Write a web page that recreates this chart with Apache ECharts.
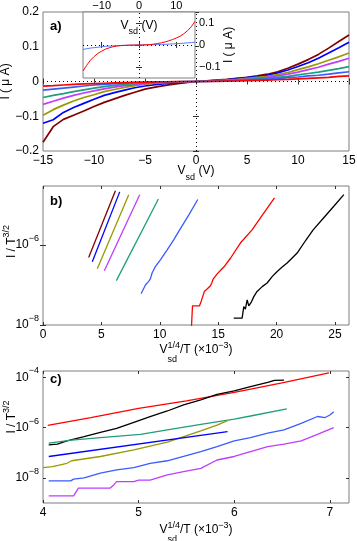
<!DOCTYPE html>
<html>
<head>
<meta charset="utf-8">
<script src="https://cdn.jsdelivr.net/npm/echarts@6/dist/echarts.min.js"></script>
<style>
html, body { margin: 0; padding: 0; background: #fff; }
#chart { width: 357px; height: 541px; }
</style>
</head>
<body>
<div id="chart"></div>
<script>
// ---------- a) I-V curves, current in uA
const vsd = [-15,-14,-13,-12,-11,-10,-9,-8,-7,-6,-5,-4,-3,-2,-1,0,1,2,3,4,5,6,7,8,9,10,11,12,13,14,15];
const aMaroon = [-0.175,-0.130,-0.109,-0.097,-0.085,-0.072,-0.060,-0.050,-0.040,-0.031,-0.022,-0.016,-0.011,-0.007,-0.003,0,0.002,0.004,0.006,0.009,0.012,0.016,0.021,0.028,0.038,0.050,0.063,0.078,0.096,0.115,0.134];
const aBlue   = [-0.120,-0.110,-0.089,-0.075,-0.063,-0.051,-0.040,-0.032,-0.025,-0.018,-0.013,-0.009,-0.006,-0.004,-0.002,0,0.0015,0.003,0.005,0.008,0.011,0.014,0.018,0.025,0.033,0.043,0.054,0.067,0.082,0.097,0.113];
const aOlive  = [-0.097,-0.081,-0.068,-0.056,-0.046,-0.038,-0.029,-0.023,-0.017,-0.012,-0.008,-0.005,-0.003,-0.002,-0.001,0,0.001,0.0025,0.004,0.006,0.009,0.012,0.015,0.020,0.026,0.034,0.042,0.051,0.061,0.071,0.082];
const aViolet = [-0.066,-0.057,-0.048,-0.040,-0.033,-0.027,-0.021,-0.016,-0.012,-0.009,-0.006,-0.004,-0.0025,-0.0015,-0.0007,0,0.0007,0.002,0.003,0.005,0.0075,0.0095,0.012,0.016,0.021,0.027,0.034,0.041,0.050,0.058,0.067];
const aTeal   = [-0.046,-0.040,-0.035,-0.029,-0.024,-0.019,-0.015,-0.011,-0.008,-0.006,-0.004,-0.003,-0.002,-0.001,-0.0005,0,0.0005,0.0015,0.0025,0.004,0.006,0.0075,0.0095,0.012,0.015,0.019,0.023,0.027,0.032,0.037,0.043];
const aSky    = [-0.025,-0.022,-0.019,-0.016,-0.013,-0.010,-0.008,-0.006,-0.0045,-0.0035,-0.0025,-0.0018,-0.0012,-0.0007,-0.0003,0,0.0003,0.001,0.0018,0.003,0.004,0.0055,0.007,0.0085,0.011,0.013,0.016,0.018,0.021,0.025,0.028];
const aRed    = [-0.0135,-0.012,-0.010,-0.0085,-0.007,-0.006,-0.005,-0.004,-0.003,-0.0022,-0.0016,-0.0011,-0.0007,-0.0004,-0.0002,0,0.0002,0.0005,0.001,0.0015,0.0025,0.003,0.004,0.005,0.006,0.0075,0.009,0.0105,0.012,0.0145,0.016];
// inset
const inRed  = [-0.118,-0.092,-0.069,-0.052,-0.038,-0.028,-0.019,-0.013,-0.008,-0.005,-0.003,-0.002,-0.001,-0.0005,-0.0002,0,0.0003,0.001,0.002,0.004,0.007,0.010,0.014,0.019,0.025,0.032,0.040,0.051,0.065,0.083,0.107];
const inBlue = [-0.020,-0.017,-0.014,-0.012,-0.010,-0.008,-0.006,-0.005,-0.004,-0.003,-0.002,-0.0015,-0.001,-0.0005,-0.0002,0,0.0002,0.0005,0.001,0.0015,0.002,0.0025,0.003,0.004,0.005,0.006,0.007,0.008,0.010,0.011,0.013];
const aTicksX = [-15,-10,-5,0,5,10,15];
const aTicksY = [-0.2,-0.1,0,0.1,0.2];
const inTicksX = [-10,0,10];
const inTicksY = [-0.1,0,0.1];

// ---------- b) I/T^1.5 vs Vsd^(1/4)/T (x1e-3); y stored as log10
const bMaroonX = [3.91, 6.2],  bMaroonE = [-6.31, -4.64];
const bBlueX   = [4.22, 6.57], bBlueE   = [-6.42, -4.67];
const bOliveX  = [4.65, 7.34], bOliveE  = [-6.59, -4.74];
const bVioletX = [5.25, 8.28], bVioletE = [-6.645, -4.74];
const bTealX   = [6.28, 9.88], bTealE   = [-6.89, -4.85];
const bSkyX = [8.4, 8.6, 8.77, 9.05, 9.2, 9.34, 9.62, 10.05, 10.63, 11.19, 11.7, 12.5, 13.25];
const bSkyE = [-7.22, -7.1, -7.0, -6.91, -6.84, -6.70, -6.54, -6.37, -6.12, -5.87, -5.62, -5.24, -4.86];
const bRedX = [12.62, 12.72, 12.8, 13.4, 13.54, 13.65, 13.82, 14.05, 14.34, 14.45, 14.57, 14.91, 15.48, 16.05, 16.9, 17.9, 18.9, 19.82];
const bRedE = [-8.3, -8.0, -7.52, -7.52, -7.41, -7.38, -7.16, -7.1, -7.02, -6.95, -6.85, -6.72, -6.55, -6.33, -5.95, -5.62, -5.2, -4.82];
const bBlackX = [16.33, 17.05, 17.19, 17.33, 17.48, 17.62, 17.85, 18.05, 18.33, 18.77, 19.19, 19.62, 20.05, 20.48, 20.9, 21.76, 22.5, 23.13, 24.0, 24.9, 25.76];
const bBlackE = [-7.83, -7.83, -7.54, -7.6, -7.37, -7.52, -7.42, -7.29, -7.16, -7.04, -6.95, -6.79, -6.66, -6.55, -6.45, -6.2, -5.88, -5.62, -5.33, -5.03, -4.74];
const bTicksX = [0, 5, 10, 15, 20, 25];
const bTicksY = [1e-8, 1e-6];

// ---------- c) zoom of the same quantity
const cRedX = [4.05, 4.5, 5.0, 5.5, 6.0, 6.5, 6.99];
const cRedE = [-5.91, -5.6, -5.24, -4.94, -4.6, -4.22, -3.82];
const cBlackX = [4.06, 4.15, 4.25, 4.43, 4.6, 4.77, 4.95, 5.12, 5.3, 5.47, 5.65, 5.82, 6.0, 6.17, 6.35, 6.42, 6.52];
const cBlackE = [-6.69, -6.66, -6.53, -6.36, -6.19, -6.03, -5.79, -5.56, -5.34, -5.1, -4.9, -4.68, -4.54, -4.37, -4.2, -4.12, -4.11];
const cTealX = [4.06, 4.3, 4.6, 5.02, 5.3, 5.65, 6.0, 6.17, 6.55];
const cTealE = [-6.62, -6.5, -6.4, -6.27, -6.09, -5.87, -5.66, -5.54, -5.26];
const cOliveX = [4.0, 4.1, 4.25, 4.3, 4.6, 4.95, 5.3, 5.65, 5.82, 5.93];
const cOliveE = [-7.59, -7.55, -7.42, -7.32, -7.15, -6.89, -6.58, -6.13, -5.9, -5.72];
const cBlueX = [4.06, 5.93];
const cBlueE = [-7.15, -6.16];
const cSkyX = [4.06, 4.29, 4.32, 4.43, 4.6, 4.77, 4.95, 5.12, 5.3, 5.47, 5.65, 5.82, 6.0, 6.17, 6.35, 6.52, 6.7, 6.87, 6.95, 7.0, 7.04];
const cSkyE = [-8.12, -8.12, -8.05, -8.0, -7.81, -7.68, -7.59, -7.42, -7.32, -7.15, -6.96, -6.76, -6.53, -6.4, -6.22, -6.09, -5.83, -5.56, -5.6, -5.5, -5.37];
const cVioletX = [4.06, 4.32, 4.37, 4.7, 4.74, 4.77, 4.95, 5.0, 5.12, 5.3, 5.47, 5.65, 5.82, 6.0, 6.17, 6.35, 6.52, 6.7, 6.87, 7.04];
const cVioletE = [-8.72, -8.72, -8.41, -8.41, -8.28, -8.15, -8.15, -8.09, -8.09, -7.88, -7.75, -7.62, -7.29, -7.15, -6.96, -6.76, -6.66, -6.53, -6.27, -6.0];
const cTicksX = [4, 5, 6, 7];
const cTicksY = [1e-8, 1e-6, 1e-4];

// ---------- styling
const FONT = '"Liberation Sans", Arial, Helvetica, sans-serif';
const FRAME = '#7f7f7f';
const TICKC = '#333';
const C = { maroon: '#800000', blue: '#0000ff', olive: '#999900', violet: '#c03cff', teal: '#1f9e7c', sky: '#3a5cff', red: '#ff0000', black: '#000000' };

function pairs(xs, ys) { return xs.map((x, i) => [x, ys[i]]); }
function logPairs(xs, es) { return xs.map((x, i) => [x, Math.pow(10, es[i])]); }
function minus(v) { return String(v).replace('-', '\u2212'); }
function pow10Label(v) { return '10{s|' + minus(Math.round(Math.log10(v))) + '}'; }

const supRich = { s: { fontSize: 9, fontFamily: FONT, color: '#000', verticalAlign: 'top', lineHeight: 10 } };

function axis(o) {
  const a = {
    gridIndex: o.grid, type: o.type || 'value', position: o.pos, min: o.min, max: o.max, z: o.z || 0,
    axisLine: { show: false },
    axisTick: { show: true, inside: true, length: 3, customValues: o.ticks, lineStyle: { color: TICKC, width: 1 } },
    axisLabel: { show: !!o.labels, customValues: o.ticks, color: '#000', fontSize: o.fs || 12, fontFamily: FONT, margin: o.margin != null ? o.margin : 4, hideOverlap: false },
    splitLine: { show: false }
  };
  if (o.fmt) a.axisLabel.formatter = o.fmt;
  if (a.type === 'log') {
    a.logBase = 10;
    a.axisLabel.lineHeight = 22;
    a.axisLabel.rich = supRich;
  }
  if (o.name) {
    a.name = o.name; a.nameLocation = 'middle'; a.nameGap = o.gap; a.nameTextStyle = o.nameStyle;
    a.nameMoveOverlap = false;
  }
  return a;
}

// subscript / superscript tokens for the axis titles
function xNameStyle(subDrop) {
  const small = { fontSize: 9, fontFamily: FONT, color: '#000' };
  return {
    fontSize: 12, fontFamily: FONT, color: '#000', lineHeight: 30,
    rich: {
      sb:  Object.assign({ verticalAlign: 'bottom', padding: [0, 0, subDrop, 0] }, small),
      sbs: Object.assign({ verticalAlign: 'bottom', padding: [0, -9.5, subDrop, 0] }, small),
      sp:  Object.assign({ verticalAlign: 'top', padding: [6, 0, 0, 0] }, small)
    }
  };
}
function yNameStyle(shift) {
  return {
    fontSize: 12, fontFamily: FONT, color: '#000', lineHeight: 20, padding: [0, 0, 0, shift],
    rich: { sp: { fontSize: 9, fontFamily: FONT, color: '#000', verticalAlign: 'top', lineHeight: 10 } }
  };
}

const gridBase = { show: true, borderColor: FRAME, borderWidth: 1, containLabel: false, outerBoundsMode: 'none' };
const grids = [
  Object.assign({ left: 43, top: 12, width: 306, height: 139 }, gridBase),
  Object.assign({ left: 83, top: 12, width: 112, height: 66, backgroundColor: '#fff', z: 5 }, gridBase),
  Object.assign({ left: 43, top: 186, width: 306, height: 139 }, gridBase),
  Object.assign({ left: 43, top: 371, width: 306, height: 132 }, gridBase)
];

const xAxes = [
  axis({ grid: 0, pos: 'bottom', min: -15, max: 15, ticks: aTicksX, labels: true, fmt: minus, name: 'V{sb|sd} (V)', gap: 5, nameStyle: xNameStyle(3.5) }),
  axis({ grid: 0, pos: 'top', min: -15, max: 15, ticks: aTicksX }),
  axis({ grid: 1, pos: 'top', min: -15, max: 15, ticks: inTicksX, labels: true, fmt: minus, fs: 11, margin: 1, z: 6,
         name: 'V{sb|sd} (V)', gap: -29, nameStyle: xNameStyle(4.5) }),
  axis({ grid: 1, pos: 'bottom', min: -15, max: 15, ticks: inTicksX, z: 6 }),
  axis({ grid: 2, pos: 'bottom', min: 0, max: 26.2, ticks: bTicksX, labels: true,
         name: 'V{sbs|sd}{sp|1/4}/T (\u00d710{sp|\u22123})', gap: 10, nameStyle: xNameStyle(1) }),
  axis({ grid: 2, pos: 'top', min: 0, max: 26.2, ticks: bTicksX }),
  axis({ grid: 3, pos: 'bottom', min: 4, max: 7.2, ticks: cTicksX, labels: true,
         name: 'V{sbs|sd}{sp|1/4}/T (\u00d710{sp|\u22123})', gap: 12, nameStyle: xNameStyle(1) }),
  axis({ grid: 3, pos: 'top', min: 4, max: 7.2, ticks: cTicksX })
];

const yAxes = [
  axis({ grid: 0, pos: 'left', min: -0.2, max: 0.2, ticks: aTicksY, labels: true, fmt: minus,
         name: 'I ( \u03bc A)', gap: 30, nameStyle: { fontSize: 12, fontFamily: FONT, color: '#000', lineHeight: 14 } }),
  axis({ grid: 0, pos: 'right', min: -0.2, max: 0.2, ticks: aTicksY }),
  axis({ grid: 1, pos: 'right', min: -0.15, max: 0.15, ticks: inTicksY, labels: true, fmt: minus, fs: 11, margin: 4, z: 6,
         name: 'I ( \u03bc A)', gap: 27, nameStyle: { fontSize: 12, fontFamily: FONT, color: '#000', lineHeight: 14 } }),
  axis({ grid: 1, pos: 'left', min: -0.15, max: 0.15, ticks: inTicksY, z: 6 }),
  axis({ grid: 2, type: 'log', pos: 'left', min: 1e-8, max: 3e-5, ticks: bTicksY, labels: true, fmt: pow10Label,
         name: 'I / T{sp|3/2}', gap: 21, nameStyle: yNameStyle(28) }),
  axis({ grid: 2, type: 'log', pos: 'right', min: 1e-8, max: 3e-5, ticks: bTicksY }),
  axis({ grid: 3, type: 'log', pos: 'left', min: 1e-9, max: 1.78e-4, ticks: cTicksY, labels: true, fmt: pow10Label,
         name: 'I / T{sp|3/2}', gap: 21, nameStyle: yNameStyle(40) }),
  axis({ grid: 3, type: 'log', pos: 'right', min: 1e-9, max: 1.78e-4, ticks: cTicksY })
];

function line(xi, data, color, width, z) {
  return { type: 'line', xAxisIndex: xi, yAxisIndex: xi, data: data, showSymbol: false, symbol: 'none',
           lineStyle: { color: color, width: width }, itemStyle: { color: color }, z: z || 2, silent: true };
}
const dotted = { type: [1, 3], color: '#000', width: 1 };

const series = [
  line(0, pairs(vsd, aMaroon), C.maroon, 1.7),
  line(0, pairs(vsd, aBlue), C.blue, 1.7),
  line(0, pairs(vsd, aOlive), C.olive, 1.7),
  line(0, pairs(vsd, aViolet), C.violet, 1.7),
  line(0, pairs(vsd, aTeal), C.teal, 1.7),
  line(0, pairs(vsd, aSky), C.sky, 1.7),
  Object.assign(line(0, pairs(vsd, aRed), C.red, 1.7), {
    markLine: { silent: true, symbol: 'none', label: { show: false }, lineStyle: dotted, data: [{ yAxis: 0 }, { xAxis: 0 }] }
  }),
  Object.assign(line(2, pairs(vsd, inBlue), '#5a78ff', 1, 7), {
    markLine: { silent: true, symbol: 'none', label: { show: false }, lineStyle: dotted, data: [{ yAxis: 0 }, { xAxis: 0 }] }
  }),
  line(2, pairs(vsd, inRed), C.red, 1, 7),

  line(4, logPairs(bMaroonX, bMaroonE), C.maroon, 1.3),
  line(4, logPairs(bBlueX, bBlueE), C.blue, 1.3),
  line(4, logPairs(bOliveX, bOliveE), C.olive, 1.3),
  line(4, logPairs(bVioletX, bVioletE), C.violet, 1.3),
  line(4, logPairs(bTealX, bTealE), C.teal, 1.3),
  line(4, logPairs(bSkyX, bSkyE), C.sky, 1.3),
  line(4, logPairs(bRedX, bRedE), C.red, 1.3),
  line(4, logPairs(bBlackX, bBlackE), C.black, 1.3),

  line(6, logPairs(cRedX, cRedE), C.red, 1.3),
  line(6, logPairs(cBlackX, cBlackE), C.black, 1.3),
  line(6, logPairs(cTealX, cTealE), C.teal, 1.3),
  line(6, logPairs(cOliveX, cOliveE), C.olive, 1.3),
  line(6, logPairs(cBlueX, cBlueE), C.blue, 1.3),
  line(6, logPairs(cSkyX, cSkyE), C.sky, 1.3),
  line(6, logPairs(cVioletX, cVioletE), C.violet, 1.3)
];

const panelTitle = (t, top) => ({ text: t, left: 50, top: top, padding: 0,
  textStyle: { fontSize: 13, fontWeight: 'bold', fontFamily: FONT, color: '#000' } });

const chart = echarts.init(document.getElementById('chart'));
chart.setOption({
  animation: false,
  backgroundColor: '#fff',
  title: [panelTitle('a)', 20), panelTitle('b)', 195), panelTitle('c)', 373)],
  grid: grids,
  xAxis: xAxes,
  yAxis: yAxes,
  series: series
});
</script>
</body>
</html>
